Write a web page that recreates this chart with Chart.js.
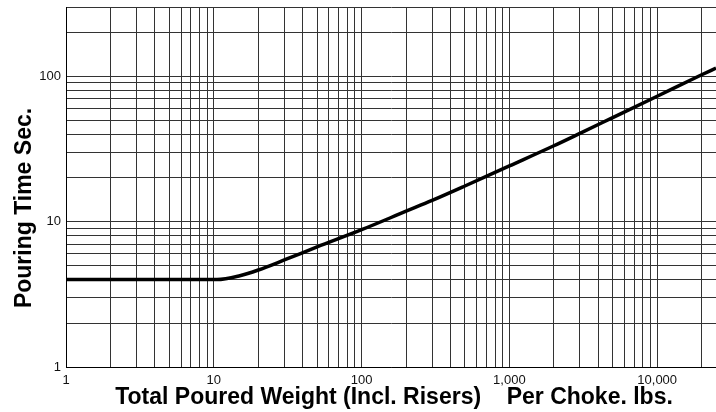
<!DOCTYPE html>
<html>
<head>
<meta charset="utf-8">
<script src="https://cdn.jsdelivr.net/npm/chart.js@4/dist/chart.umd.min.js"></script>
<style>
html,body{margin:0;padding:0;background:#fff;}
#wrap{width:716px;height:412px;}
</style>
</head>
<body>
<div id="wrap"><canvas id="c" width="716" height="412"></canvas></div>
<script>
// Data
const weights   = [1, 10.5, 15, 20, 30, 50, 100, 200, 300, 500, 1000, 2000, 3000, 5000, 10000, 20000, 25000];
const pourTimes = [4, 4, 4.25, 4.65, 5.45, 6.7, 8.8, 11.8, 14.0, 17.6, 24.2, 33.3, 40.5, 52, 73, 102.5, 114];

// Grid/tick values
const xGrid = [1,2,3,4,5,6,7,8,9,10,20,30,40,50,60,70,80,90,100,200,300,400,500,600,700,800,900,
               1000,2000,3000,4000,5000,6000,7000,8000,9000,10000,20000];
const yGrid = [1,2,3,4,5,6,7,8,9,10,20,30,40,50,60,70,80,90,100,200,300];
const xLabelValues = [1, 10, 100, 1000, 10000];
const xLabelTexts  = ['1', '10', '100', '1,000', '10,000'];
const yLabelValues = [1, 10, 100];
const yLabelTexts  = ['1', '10', '100'];
const xTitle = 'Total Poured Weight (Incl. Risers)    Per Choke. lbs.';
const yTitle = 'Pouring Time Sec.';

const FONT = '"Liberation Sans", Arial, Helvetica, sans-serif';

const titlePlugin = {
  id: 'axisTitles',
  afterDraw(chart) {
    const ctx = chart.ctx;
    const a = chart.chartArea;
    ctx.save();
    ctx.fillStyle = '#000';
    ctx.font = 'bold 23px ' + FONT;
    ctx.textAlign = 'center';
    ctx.textBaseline = 'alphabetic';
    ctx.fillText(xTitle, (a.left + a.right) / 2 + 3, 404);
    ctx.textBaseline = 'middle';
    ctx.translate(25, (a.top + a.bottom) / 2 + 21);
    ctx.rotate(-Math.PI / 2);
    ctx.fillText(yTitle, 0, 0);
    ctx.restore();
  }
};

new Chart(document.getElementById('c'), {
  type: 'line',
  data: {
    datasets: [{
      data: weights.map((w, i) => ({ x: w, y: pourTimes[i] })),
      borderColor: '#000',
      borderWidth: 3.5,
      pointRadius: 0,
      fill: false,
      cubicInterpolationMode: 'monotone'
    }]
  },
  options: {
    responsive: false,
    animation: false,
    layout: { padding: { top: 7, right: 0, left: 0, bottom: 0 } },
    plugins: { legend: { display: false }, tooltip: { enabled: false } },
    scales: {
      x: {
        type: 'logarithmic',
        min: 1,
        max: 25000,
        afterBuildTicks: s => { s.ticks = xGrid.map(v => ({ value: v })); },
        afterFit: s => { s.height = 45; s.paddingLeft = 0; s.paddingRight = 0; },
        ticks: {
          autoSkip: false,
          maxRotation: 0,
          padding: 6,
          color: '#111',
          font: { family: FONT, size: 13 },
          callback: v => { const i = xLabelValues.indexOf(v); return i >= 0 ? xLabelTexts[i] : ''; }
        },
        grid: { color: '#333', lineWidth: 1, drawTicks: false },
        border: { color: '#000', width: 1 }
      },
      y: {
        type: 'logarithmic',
        min: 1,
        max: 300,
        afterBuildTicks: s => { s.ticks = yGrid.map(v => ({ value: v })); },
        afterFit: s => { s.width = 66; s.paddingTop = 0; s.paddingBottom = 0; },
        ticks: {
          autoSkip: false,
          padding: 5,
          color: '#111',
          font: { family: FONT, size: 13 },
          callback: v => { const i = yLabelValues.indexOf(v); return i >= 0 ? yLabelTexts[i] : ''; }
        },
        grid: { color: '#333', lineWidth: 1, drawTicks: false },
        border: { color: '#000', width: 1 }
      }
    }
  },
  plugins: [titlePlugin]
});
</script>
</body>
</html>
